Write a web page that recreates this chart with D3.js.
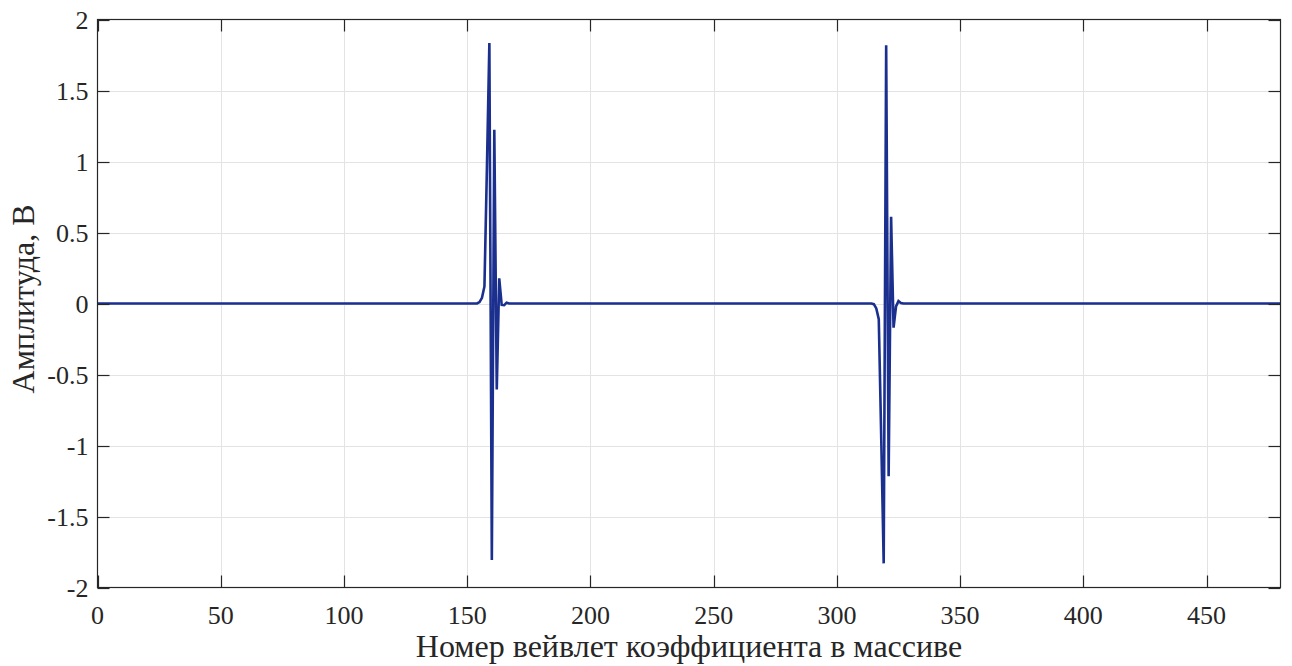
<!DOCTYPE html>
<html>
<head>
<meta charset="utf-8">
<script src="https://cdn.jsdelivr.net/npm/d3@7"></script>
<style>
  html, body { margin: 0; padding: 0; background: #fff; }
  svg { display: block; }
  text { font-family: "Liberation Serif", "Times New Roman", serif; fill: #262626; }
</style>
</head>
<body>
<svg id="chart" width="1292" height="666"></svg>
<script>
// ---- data ----
const sampleIndex = [0, 154, 155, 156, 157, 158, 159, 160, 161, 162, 163, 164, 165, 166, 167,
                     314, 315, 316, 317, 318, 319, 320, 321, 322, 323, 324, 325, 326, 327, 480];
const amplitude   = [0, 0, 0.01, 0.04, 0.12, 0.95, 1.835, -1.806, 1.224, -0.606, 0.177, -0.01, -0.012, 0.006, 0,
                     0, -0.005, -0.035, -0.11, -0.95, -1.83, 1.818, -1.217, 0.611, -0.17, -0.02, 0.017, 0.004, 0, 0];
const xTicks = [0, 50, 100, 150, 200, 250, 300, 350, 400, 450];
const yTicks = [2, 1.5, 1, 0.5, 0, -0.5, -1, -1.5, -2];
const xTickLabels = ["0", "50", "100", "150", "200", "250", "300", "350", "400", "450"];
const yTickLabels = ["2", "1.5", "1", "0.5", "0", "-0.5", "-1", "-1.5", "-2"];
const xTitle = "Номер вейвлет коэффициента в массиве";
const yTitle = "Амплитуда, В";

// ---- layout ----
const FONT = "'Liberation Serif', 'Times New Roman', serif";
const L = 97.5, R = 1280.5, T = 19.5, B = 587.5;
const svg = d3.select("#chart");
const x = d3.scaleLinear().domain([0, 480]).range([L, R]);
const y = d3.scaleLinear().domain([-2, 2]).range([B, T]);

// grid
const grid = svg.append("g");
grid.selectAll("line.vg").data(xTicks.slice(1)).join("line")
  .attr("x1", d => Math.round(x(d)) + 0.5).attr("x2", d => Math.round(x(d)) + 0.5)
  .attr("y1", T).attr("y2", B).attr("stroke", "#e3e3e3").attr("stroke-width", 1);
grid.selectAll("line.hg").data(yTicks.slice(1, -1)).join("line")
  .attr("y1", d => Math.round(y(d)) + 0.5).attr("y2", d => Math.round(y(d)) + 0.5)
  .attr("x1", L).attr("x2", R).attr("stroke", "#e3e3e3").attr("stroke-width", 1);

// line
const pts = sampleIndex.map((v, i) => [v, amplitude[i]]);
svg.append("path").datum(pts)
  .attr("d", d3.line().x(d => x(d[0])).y(d => y(d[1])))
  .attr("fill", "none").attr("stroke", "#1a2f8e").attr("stroke-width", 2.6)
  .attr("stroke-linejoin", "miter").attr("stroke-miterlimit", 10);

// box + ticks
const axisColor = "#262626";
svg.append("rect").attr("x", L).attr("y", T).attr("width", R - L).attr("height", B - T)
  .attr("fill", "none").attr("stroke", axisColor).attr("stroke-width", 1.2);
const tl = 12;
const tk = svg.append("g").attr("stroke", axisColor).attr("stroke-width", 1.2);
xTicks.forEach(d => {
  const xx = Math.round(x(d)) + 0.5;
  tk.append("line").attr("x1", xx).attr("x2", xx).attr("y1", B).attr("y2", B - tl);
  tk.append("line").attr("x1", xx).attr("x2", xx).attr("y1", T).attr("y2", T + tl);
});
yTicks.forEach(d => {
  const yy = Math.round(y(d)) + 0.5;
  tk.append("line").attr("x1", L).attr("x2", L + tl).attr("y1", yy).attr("y2", yy);
  tk.append("line").attr("x1", R).attr("x2", R - tl).attr("y1", yy).attr("y2", yy);
});

// tick labels
svg.append("g").selectAll("text").data(xTicks).join("text")
  .attr("x", d => x(d)).attr("y", 623.5).attr("text-anchor", "middle")
  .attr("font-family", FONT).attr("font-size", 26).text((d, i) => xTickLabels[i]);
svg.append("g").selectAll("text").data(yTicks).join("text")
  .attr("x", 88.5).attr("y", d => y(d) + 9.5).attr("text-anchor", "end")
  .attr("font-family", FONT).attr("font-size", 26).text((d, i) => yTickLabels[i]);

// axis titles
svg.append("text").attr("x", (L + R) / 2).attr("y", 657).attr("text-anchor", "middle")
  .attr("font-family", FONT).attr("font-size", 32).text(xTitle);
svg.append("text").attr("transform", "translate(34,299) rotate(-90)")
  .attr("text-anchor", "middle").attr("font-family", FONT).attr("font-size", 32).text(yTitle);
</script>
</body>
</html>
